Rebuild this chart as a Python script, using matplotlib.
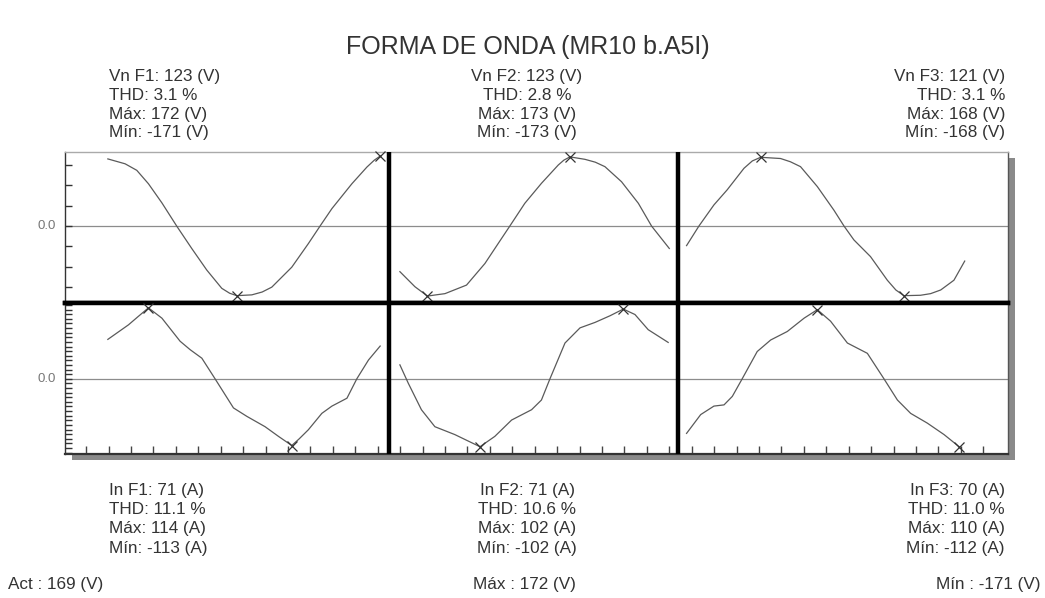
import matplotlib
matplotlib.use("Agg")
import matplotlib.pyplot as plt
from matplotlib.patches import Rectangle
from matplotlib.ticker import MultipleLocator

# time axis in tick units (one tick per sample block)
T_V1 = [0.97, 1.74, 2.26, 2.78, 3.38, 4.04, 4.71, 5.38, 6.05, 6.4, 6.72, 7.39, 7.85, 8.28, 9.17, 9.91, 10.43, 10.96, 11.85, 12.52, 12.85, 13.11]
V1 = [165, 153, 137, 104, 57, 0, -55, -108, -153, -165, -171, -169, -162, -150, -101, -43, 0, 43, 104, 145, 162, 172]
T_V2 = [13.99, 14.66, 15.22, 15.6, 16.0, 16.96, 17.78, 18.37, 18.89, 19.56, 20.3, 21.05, 21.3, 21.57, 22.24, 22.7, 23.13, 23.87, 24.62, 25.21, 26.0]
V2 = [-112, -149, -172, -169, -166, -145, -92, -43, 0, 56, 105, 150, 162, 170, 164, 157, 146, 109, 56, 0, -55]
T_V3 = [26.77, 27.32, 27.99, 28.58, 29.33, 29.7, 30.07, 30.96, 31.4, 31.85, 32.6, 33.34, 33.79, 34.23, 34.97, 35.72, 36.1, 36.46, 37.2, 37.65, 38.1, 38.69, 39.17]
V3 = [-48, 0, 52, 89, 142, 160, 169, 166, 158, 146, 97, 39, 0, -34, -75, -133, -157, -171, -170, -166, -157, -133, -86]

T_I1 = [0.97, 1.89, 2.3, 2.78, 3.38, 4.19, 4.64, 5.16, 5.75, 6.57, 7.17, 7.98, 8.58, 9.17, 9.5, 9.91, 10.51, 10.96, 11.63, 12.07, 12.59, 13.11]
I1 = [65, 89, 102, 117, 100, 62, 48, 34, 0, -48, -62, -79, -95, -110, -99, -84, -57, -45, -32, 0, 31, 54]
T_I2 = [13.99, 14.36, 14.95, 15.55, 16.44, 17.56, 18.22, 18.97, 19.86, 20.3, 20.68, 21.35, 22.02, 22.69, 23.36, 23.95, 24.47, 25.06, 25.95]
I2 = [23, -7, -51, -79, -92, -112, -95, -68, -51, -35, 0, 59, 84, 93, 104, 115, 106, 81, 60]
T_I3 = [26.77, 27.4, 27.99, 28.44, 28.81, 29.25, 29.92, 30.52, 31.26, 32.01, 32.6, 33.19, 33.94, 34.83, 35.57, 36.17, 36.76, 37.5, 38.25, 38.92]
I3 = [-90, -59, -45, -43, -29, 0, 45, 64, 78, 100, 114, 95, 59, 42, 0, -35, -57, -73, -92, -112]

TITLE = "FORMA DE ONDA (MR10 b.A5I)"
V_INFO = [
    ["Vn F1: 123 (V)", "THD: 3.1 %", "Máx: 172 (V)", "Mín: -171 (V)"],
    ["Vn F2: 123 (V)", "THD: 2.8 %", "Máx: 173 (V)", "Mín: -173 (V)"],
    ["Vn F3: 121 (V)", "THD: 3.1 %", "Máx: 168 (V)", "Mín: -168 (V)"],
]
I_INFO = [
    ["In F1: 71 (A)", "THD: 11.1 %", "Máx: 114 (A)", "Mín: -113 (A)"],
    ["In F2: 71 (A)", "THD: 10.6 %", "Máx: 102 (A)", "Mín: -102 (A)"],
    ["In F3: 70 (A)", "THD: 11.0 %", "Máx: 110 (A)", "Mín: -112 (A)"],
]
FOOTER = ["Act : 169 (V)", "Máx : 172 (V)", "Mín : -171 (V)"]

DIVIDERS = [13.51, 26.4]
XLIM = (-0.94, 41.1)

plt.rcParams["font.family"] = ["Liberation Sans", "DejaVu Sans"]
INK = "#333333"
CURVE = "#5a5a5a"

W, H = 1045, 598
fig = plt.figure(figsize=(W / 100, H / 100), dpi=100)


def fx(px):
    return px / W


def fy(py):
    return 1 - py / H


L, R = 65, 1008
# drop shadow behind the plot frame
fig.add_artist(Rectangle((fx(72), fy(460)), fx(1015) - fx(72), fy(158) - fy(460),
                         transform=fig.transFigure, color="#8a8a8a", lw=0, zorder=0))

ax_v = fig.add_axes([fx(L), fy(303), fx(R) - fx(L), fy(152) - fy(303)])
ax_i = fig.add_axes([fx(L), fy(454), fx(R) - fx(L), fy(303) - fy(454)])

for ax, series, ylim, step in [
    (ax_v, [(T_V1, V1), (T_V2, V2), (T_V3, V3)], (-189, 182), 50),
    (ax_i, [(T_I1, I1), (T_I2, I2), (T_I3, I3)], (-124, 125), 7.6),
]:
    ax.set_facecolor("white")
    ax.set_xlim(*XLIM)
    ax.set_ylim(*ylim)
    ax.axhline(0, color="#8c8c8c", lw=0.9, zorder=1)
    for t, y in series:
        ax.plot(t, y, color=CURVE, lw=0.9, zorder=2)
        imax = max(range(len(y)), key=lambda k: y[k])
        imin = min(range(len(y)), key=lambda k: y[k])
        ax.plot([t[imax], t[imin]], [y[imax], y[imin]], ls="none", marker="x",
                ms=7, mew=0.9, color="#333333", zorder=3, clip_on=False)
    for d in DIVIDERS:
        ax.axvline(d, color="black", lw=3.2, zorder=4)
    ax.yaxis.set_major_locator(MultipleLocator(step))
    ax.tick_params(axis="y", direction="in", length=5, width=1, color="#333333",
                   labelleft=False, pad=2)
    ax.set_xticks([])
    for s in ax.spines.values():
        s.set_color("#333333")
        s.set_linewidth(1.0)
    ax.spines["right"].set_color("#555555")
    ax.text(-0.01, 0, "0.0", transform=ax.get_yaxis_transform(), ha="right",
            va="center", fontsize=9.5, color="#777777")

ax_v.spines["top"].set_color("#aaaaaa")
ax_v.spines["bottom"].set_linewidth(3.2)
ax_v.spines["bottom"].set_color("black")
ax_i.spines["top"].set_linewidth(3.2)
ax_i.spines["top"].set_color("black")
ax_i.spines["bottom"].set_linewidth(1.6)

# time ticks along the bottom edge
ax_i.set_xticks(range(0, 41))
ax_i.tick_params(axis="x", direction="in", length=6, width=1, color="#444444",
                 labelbottom=False)

fig.text(fx(528), fy(47), TITLE, ha="center", va="center", fontsize=18, color=INK)

FS = 12.3
col_x = [(fx(109), "left"), (fx(527), "center"), (fx(1005), "right")]
for (x, ha), lines in zip(col_x, V_INFO):
    for k, s in enumerate(lines):
        fig.text(x, fy(76 + 19 * k), s, ha=ha, va="center", fontsize=FS, color=INK)
for (x, ha), lines in zip(col_x, I_INFO):
    for k, s in enumerate(lines):
        fig.text(x, fy(491 + 19 * k), s, ha=ha, va="center", fontsize=FS, color=INK)

for (x, ha), s in zip([(fx(8), "left"), (fx(524), "center"), (fx(1040), "right")], FOOTER):
    fig.text(x, fy(584), s, ha=ha, va="center", fontsize=FS, color=INK)

fig.savefig("out.png", dpi=100, facecolor="white")
